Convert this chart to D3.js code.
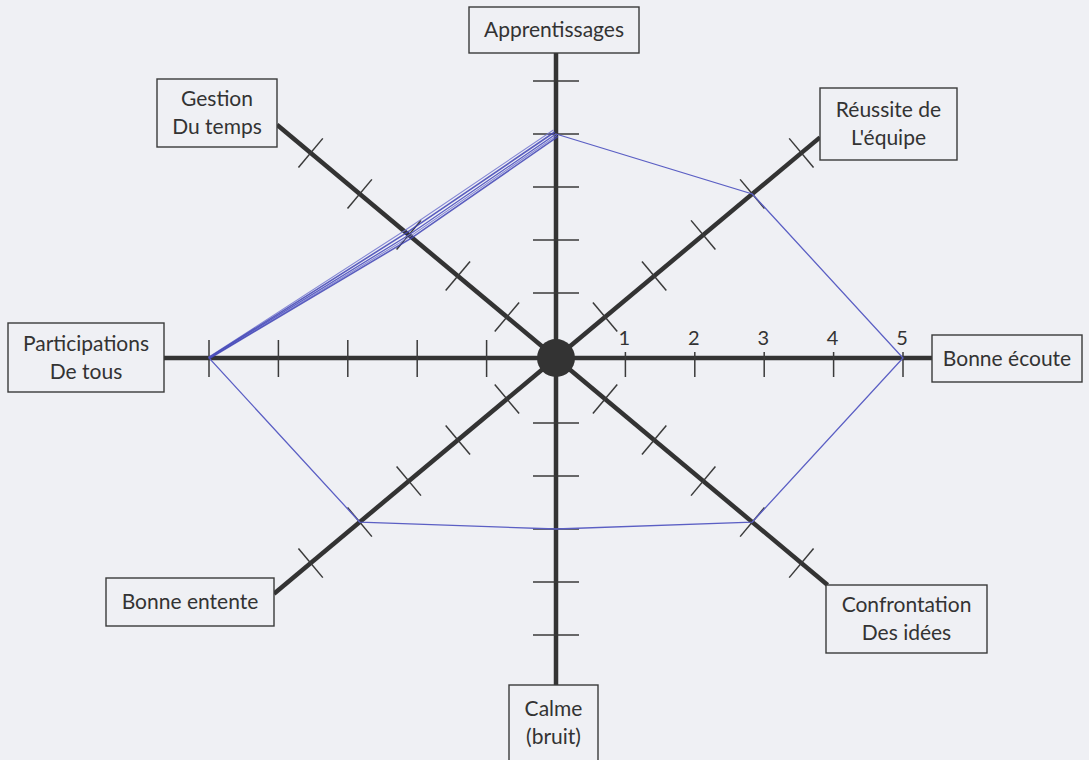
<!DOCTYPE html>
<html>
<head>
<meta charset="utf-8">
<script src="https://cdn.jsdelivr.net/npm/d3@7"></script>
<style>
  html, body { margin: 0; padding: 0; background: #eff0f4; }
  svg { display: block; }
  text { font-family: Lato, "Open Sans", sans-serif; fill: #333; }
</style>
</head>
<body>
<svg id="chart"></svg>
<script>
// axes of the radar, clockwise from the top
const axes = [
  ['Apprentissages'],
  ['Réussite de', "L'équipe"],
  ['Bonne écoute'],
  ['Confrontation', 'Des idées'],
  ['Calme', '(bruit)'],
  ['Bonne entente'],
  ['Participations', 'De tous'],
  ['Gestion', 'Du temps']
];
const scores = [4, 4, 5, 4, 3, 4, 5, 3];
const tickValues = [1, 2, 3, 4, 5];
const tickLabels = ['1', '2', '3', '4', '5'];

const width = 1089;
const height = 760;
const cx = 556, cy = 358;

// label boxes (x, y, w, h) in the same order as axes
const boxes = [
  [469, 7, 170, 46],
  [820, 88, 137, 72],
  [932, 335, 150, 47],
  [826, 585, 161, 68],
  [509, 685, 89, 76],
  [106, 578, 168, 48],
  [8, 323, 156, 69],
  [157, 79, 120, 68]
];

const svg = d3.select('#chart')
  .attr('width', width)
  .attr('height', height);

// hand-drawn sheet: each direction has its own spacing
const xs = d3.scaleLinear().domain([0, 5]).range([0, 347]);        // horizontal axes
const vs = d3.scaleLinear().domain([0, 1, 5]).range([0, 65, 277]); // vertical axes
const ds = d3.scaleLinear().domain([0, 5]).range([0, 290]);        // y part of diagonals

const angle = i => Math.PI / 2 - i * Math.PI / 4;
function point(i, v) {
  const a = angle(i), c = Math.cos(a), s = Math.sin(a);
  if (i % 4 === 0) return [cx, cy - Math.sign(s) * vs(v)];
  if (i % 4 === 2) return [cx + Math.sign(c) * xs(v), cy];
  return [cx + xs(v) * c, cy - ds(v) * s];
}

// where the ray from the centre enters a box
function rayToBox(dx, dy, b) {
  const [bx, by, bw, bh] = b;
  let tmin = -Infinity;
  [[dx, cx, bx, bx + bw], [dy, cy, by, by + bh]].forEach(([d, o, lo, hi]) => {
    if (Math.abs(d) < 1e-9) return;
    let t1 = (lo - o) / d, t2 = (hi - o) / d;
    if (t1 > t2) [t1, t2] = [t2, t1];
    tmin = Math.max(tmin, t1);
  });
  return tmin;
}

const axisG = svg.append('g');

axes.forEach((label, i) => {
  const [px, py] = point(i, 5);
  let dx = px - cx, dy = py - cy;
  const len = Math.hypot(dx, dy);
  dx /= len; dy /= len;
  const t = rayToBox(dx, dy, boxes[i]);

  axisG.append('line')
    .attr('x1', cx).attr('y1', cy)
    .attr('x2', cx + dx * t).attr('y2', cy + dy * t)
    .attr('stroke', '#333')
    .attr('stroke-width', 4.5);

  // tick marks across the axis (a = one side, b = other side)
  let a = 19, b = 19;
  if (i % 4 === 0) { a = 23; b = 23; }
  if (i === 6) { a = 18; b = 19; }
  if (i === 2) { a = 19; b = 6; }
  axisG.selectAll(null)
    .data(tickValues)
    .join('line')
    .attr('x1', v => point(i, v)[0] - dy * a)
    .attr('y1', v => point(i, v)[1] + dx * a)
    .attr('x2', v => point(i, v)[0] + dy * b)
    .attr('y2', v => point(i, v)[1] - dx * b)
    .attr('stroke', '#3a3a3a')
    .attr('stroke-width', 1.5);
});

// numbers only along "Bonne écoute"
axisG.selectAll('text.num')
  .data(tickValues)
  .join('text')
  .attr('class', 'num')
  .attr('x', v => point(2, v)[0] - 1)
  .attr('y', v => point(2, v)[1] - 13)
  .attr('text-anchor', 'middle')
  .style('font-size', '20px')
  .text((v, k) => tickLabels[k]);

axisG.append('circle')
  .attr('cx', cx).attr('cy', cy)
  .attr('r', 19)
  .attr('fill', '#333');

// label boxes
const boxG = svg.append('g');
axes.forEach((label, i) => {
  const [bx, by, bw, bh] = boxes[i];
  boxG.append('rect')
    .attr('x', bx).attr('y', by)
    .attr('width', bw).attr('height', bh)
    .attr('fill', '#eff0f4')
    .attr('stroke', '#3a3a3a')
    .attr('stroke-width', 1.4);
  const lh = 28;
  const y0 = by + bh / 2 - (label.length - 1) * lh / 2;
  boxG.selectAll(null)
    .data(label)
    .join('text')
    .attr('x', bx + bw / 2)
    .attr('y', (d, k) => y0 + k * lh)
    .attr('dy', '0.35em')
    .attr('text-anchor', 'middle')
    .style('font-size', '21px')
    .text(d => d);
});

// the pen line
const pts = scores.map((v, i) => point(i, v));
const line = d3.line().curve(d3.curveLinearClosed);

svg.append('path')
  .attr('d', line(pts))
  .attr('fill', 'none')
  .attr('stroke', '#5b5fc4')
  .attr('stroke-width', 1.3);

// the upper-left stretch was gone over several times:
// strokes meet at "Participations" and fan out towards the top
const over = [pts[6], pts[7], pts[0]];
const dirX = over[2][0] - over[0][0], dirY = over[2][1] - over[0][1];
const dl = Math.hypot(dirX, dirY);
const nx = -dirY / dl, ny = dirX / dl;
const fan = [0.15, 1, 0.8];
[-6, -3, 2, 4].forEach((o, k) => {
  svg.append('path')
    .attr('d', d3.line()(over.map(([x, y], j) => [x + nx * o * fan[j], y + ny * o * fan[j]])))
    .attr('fill', 'none')
    .attr('stroke', k % 2 ? '#3f43b5' : '#7275cf')
    .attr('stroke-width', k % 2 ? 1.6 : 1.1)
    .attr('opacity', 0.85);
});
</script>
</body>
</html>
